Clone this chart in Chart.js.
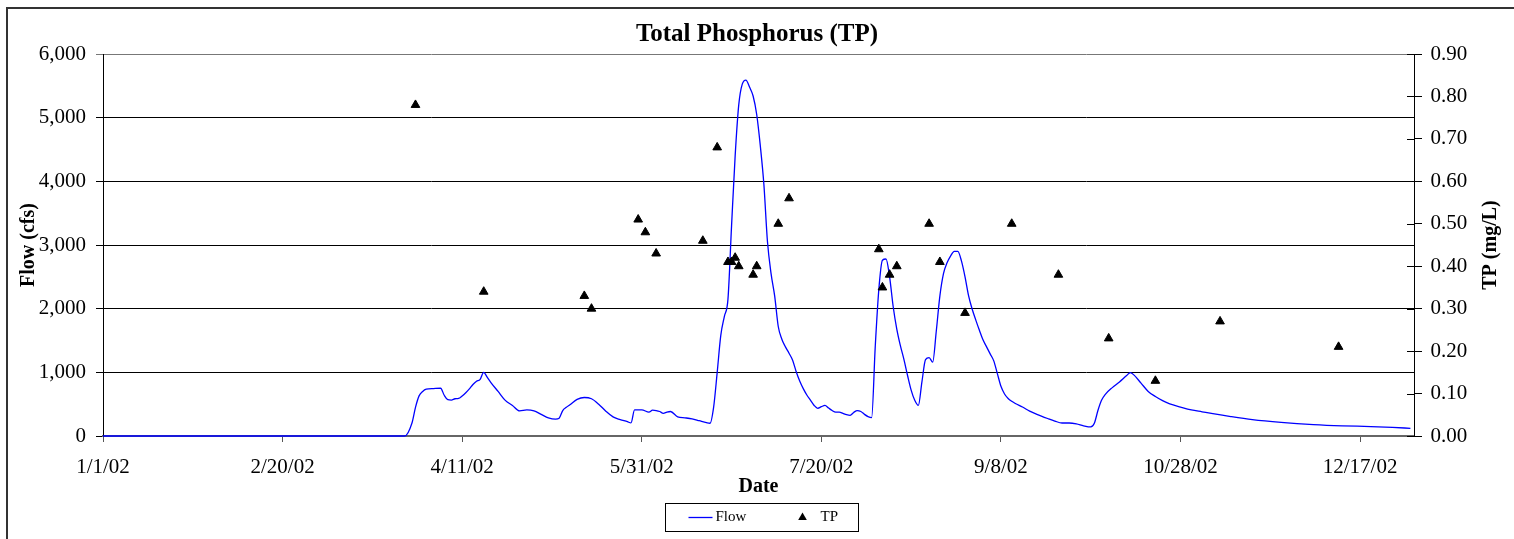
<!DOCTYPE html>
<html><head><meta charset="utf-8">
<script src="https://cdn.jsdelivr.net/npm/chart.js@4"></script>
<style>html,body{margin:0;padding:0;background:#fff}canvas{display:block}</style>
</head><body>
<canvas id="c" width="1514" height="539"></canvas>
<script>
// Day of year 2002 (0 = 1/1/02)
const flowDays = [0,84,86,87,88,89,90,92,94,95,96,97,98,99,100,101,102,103,104,105,106,107,108,110,112,114,116,118,120,122,124,126,127,128,129,130,132,134,136,138,140,142,144,146,147,148,150,152,153,154,155,156,157,158,160,162,164,166,168,169,170,171,172,173,174,175,176,177,178,179,180,181,182,183,184,185,186,187,188,189,190,191,192,193,194,195,196,197,198,199,200,201,202,203,204,205,206,207,208,209,210,211,212,213,214,215,216,217,218,219,220,221,222,223,224,225,226,227,228,229,230,231,232,233,234,235,236,237,238,239,240,241,242,243,244,245,246,247,248,249,250,251,252,253,254,256,258,260,263,265,267,269,271,273,275,276,277,278,279,281,283,285,286,287,289,291,293,295,297,300,303,306,309,314,320,328,337,345,353,359,364];
const flowValues = [0,0,200,450,630,700,735,745,750,640,570,565,585,590,630,680,740,810,860,890,1000,920,840,700,560,480,395,410,395,340,285,265,280,400,450,490,575,605,585,500,390,300,258,225,205,410,410,375,405,400,385,355,375,385,300,285,270,240,210,200,450,1000,1580,1880,2150,3300,4400,5200,5530,5590,5480,5340,5050,4560,3950,3050,2550,2200,1720,1520,1400,1300,1190,1010,860,740,640,560,480,435,460,480,440,400,375,375,355,335,325,370,400,385,340,305,290,1400,2300,2760,2780,2500,2030,1680,1420,1200,950,720,560,480,850,1200,1230,1160,1650,2200,2550,2720,2830,2900,2900,2750,2500,2200,1990,1820,1660,1510,1400,1290,1180,980,780,660,590,545,510,455,390,340,275,235,204,204,190,160,142,200,400,560,650,760,850,950,995,960,830,700,620,555,505,455,410,380,350,305,258,215,180,160,148,135,121];
const tpDays = [87,106,134,136,149,151,154,167,171,174,175,176,177,181,182,188,191,216,217,219,221,230,233,240,253,266,280,293,311,344];
const tpValues = [0.78,0.34,0.33,0.30,0.51,0.48,0.43,0.46,0.68,0.41,0.41,0.42,0.40,0.38,0.40,0.50,0.56,0.44,0.35,0.38,0.40,0.50,0.41,0.29,0.50,0.38,0.23,0.13,0.27,0.21];
const xTickDays = [0,50,100,150,200,250,300,350];
const xTickLabels = ['1/1/02','2/20/02','4/11/02','5/31/02','7/20/02','9/8/02','10/28/02','12/17/02'];
const seriesNames = ['Flow','TP'];

const FAM = "'Liberation Serif','Times New Roman',serif";
Chart.defaults.font.family = FAM;
Chart.defaults.color = '#000';

const bgPlugin = {
  id: 'bg',
  beforeDraw(chart) {
    const c = chart.ctx; c.save(); c.fillStyle = '#fff'; c.fillRect(0,0,chart.width,chart.height); c.restore();
  },
  afterDraw(chart) {
    const c = chart.ctx, ca = chart.chartArea;
    c.save();
    // outer frame
    c.strokeStyle = '#333'; c.lineWidth = 2;
    c.strokeRect(7, 8, chart.width + 20, chart.height + 20);
    // inner half of right-axis ticks
    const s = chart.scales.y1;
    c.strokeStyle = '#000'; c.lineWidth = 1;
    s.ticks.forEach(t => {
      const y = Math.round(s.getPixelForValue(t.value)) + 0.5;
      c.beginPath(); c.moveTo(s.left - 7, y); c.lineTo(s.left, y); c.stroke();
    });
    // right axis title (reads bottom to top)
    c.font = "bold 20px " + FAM; c.fillStyle = '#000';
    c.textAlign = 'center'; c.textBaseline = 'middle';
    c.translate(chart.width - 23, (ca.top + ca.bottom) / 2);
    c.rotate(-Math.PI / 2);
    c.fillText('TP (mg/L)', 0, 0);
    c.setTransform(1,0,0,1,0,0);
    // legend
    const cx = (ca.left + ca.right) / 2;
    const bx = Math.round(cx - 94) + 0.5, by = 503.5, bw = 193, bh = 28;
    c.strokeStyle = '#000'; c.lineWidth = 1;
    c.strokeRect(bx, by, bw, bh);
    const my = by + bh / 2;
    c.strokeStyle = chart.data.datasets[0].borderColor; c.lineWidth = 1.3;
    c.beginPath(); c.moveTo(bx + 23, my); c.lineTo(bx + 47, my); c.stroke();
    c.font = "15px " + FAM; c.textAlign = 'left'; c.fillStyle = '#000';
    c.fillText(seriesNames[0], bx + 50, my);
    const tx = bx + 137, r = 5;
    c.beginPath();
    c.moveTo(tx, my - r);
    c.lineTo(tx + r * 0.866, my + r / 2);
    c.lineTo(tx - r * 0.866, my + r / 2);
    c.closePath(); c.fill();
    c.fillText(seriesNames[1], bx + 155, my);
    c.restore();
  }
};

new Chart(document.getElementById('c'), {
  type: 'line',
  data: {
    datasets: [
      {
        type: 'line', label: seriesNames[0], yAxisID: 'y',
        data: flowDays.map((d, i) => ({x: d, y: flowValues[i]})),
        borderColor: '#0000ff', borderWidth: 1.3, pointRadius: 0,
        cubicInterpolationMode: 'monotone', fill: false, clip: 3, order: 2
      },
      {
        type: 'scatter', label: seriesNames[1], yAxisID: 'y1',
        data: tpDays.map((d, i) => ({x: d, y: tpValues[i]})),
        pointStyle: 'triangle', pointRadius: 5, backgroundColor: '#000', borderColor: '#000', borderWidth: 1, order: 1
      }
    ]
  },
  options: {
    responsive: false, animation: false, devicePixelRatio: 1,
    layout: {padding: 0},
    plugins: {
      legend: {display: false},
      tooltip: {enabled: false},
      title: {display: true, text: 'Total Phosphorus (TP)', color: '#000',
        font: {size: 25, weight: 'bold', family: FAM, lineHeight: 1.2}, padding: {top: 20, bottom: 4}}
    },
    scales: {
      x: {
        type: 'linear', min: 0, max: 365,
        afterFit(s) { s.height = 103; },
        afterBuildTicks(s) { s.ticks = xTickDays.map(v => ({value: v})); },
        ticks: {autoSkip: false, maxRotation: 0, minRotation: 0, padding: 13, font: {size: 21}, color: '#000',
          callback: (v, i) => xTickLabels[i]},
        grid: {drawOnChartArea: false, drawTicks: true, tickLength: 6, color: '#555'},
        border: {color: '#666', width: 2},
        title: {display: true, text: 'Date', color: '#000', font: {size: 20, weight: 'bold'}, padding: {top: 0, bottom: 40}}
      },
      y: {
        position: 'left', min: 0, max: 6000,
        afterFit(s) { s.width = 103; },
        ticks: {stepSize: 1000, padding: 10, font: {size: 21}, color: '#000',
          callback: v => v.toLocaleString('en-US')},
        grid: {color: ctx => (ctx.tick && ctx.tick.value === 6000) ? '#777' : '#000', tickLength: 7, drawTicks: true},
        border: {color: '#000', width: 1},
        title: {display: true, text: 'Flow (cfs)', color: '#000', font: {size: 20, weight: 'bold'}, padding: {top: 17, bottom: 0}}
      },
      y1: {
        position: 'right', min: 0, max: 0.9,
        afterFit(s) { s.width = 100; },
        ticks: {stepSize: 0.1, padding: 8.5, font: {size: 21}, color: '#000',
          callback: v => Number(v).toFixed(2)},
        grid: {drawOnChartArea: false, drawTicks: true, tickLength: 8, color: '#000'},
        border: {color: '#000', width: 1},
        title: {display: false}
      }
    }
  },
  plugins: [bgPlugin]
});
</script>
</body></html>
